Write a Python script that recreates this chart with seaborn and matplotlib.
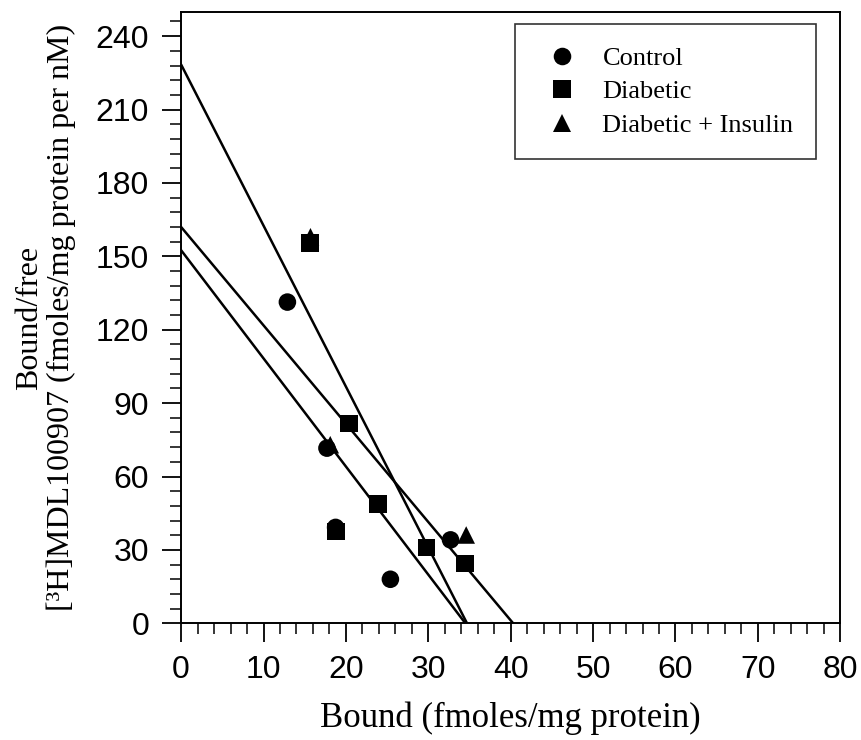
import matplotlib
matplotlib.use("Agg")
import matplotlib.pyplot as plt
import numpy as np
import pandas as pd
import seaborn as sns
from matplotlib.ticker import MultipleLocator

# Scatchard data
control_bound = [12.9, 17.7, 18.75, 25.4, 32.7]
control_bf = [131.3, 71.6, 39.2, 18.0, 34.1]

diabetic_bound = [15.65, 20.35, 23.9, 18.8, 29.8, 34.45]
diabetic_bf = [155.5, 81.6, 48.8, 37.6, 30.9, 24.5]

insulin_bound = [15.7, 18.1, 34.6]
insulin_bf = [158.0, 73.0, 36.1]

# fitted lines: y-intercept (Bmax/Kd) and x-intercept (Bmax)
fit_names = ["fit_a", "fit_b", "fit_c"]
fit_intercepts = [228.4, 162.0, 152.5]
fit_bmax = [34.7, 40.3, 34.5]

groups = ["Control", "Diabetic", "Diabetic + Insulin"]

points = pd.DataFrame({
    "bound": control_bound + diabetic_bound + insulin_bound,
    "bf": control_bf + diabetic_bf + insulin_bf,
    "group": [groups[0]] * len(control_bound)
    + [groups[1]] * len(diabetic_bound)
    + [groups[2]] * len(insulin_bound),
})

lines = pd.DataFrame({
    "fit": [n for n in fit_names for _ in range(2)],
    "bound": [v for b in fit_bmax for v in (0.0, b)],
    "bf": [v for i in fit_intercepts for v in (i, 0.0)],
})

sns.set_theme(style="ticks")
plt.rcParams["font.family"] = ["Liberation Sans", "DejaVu Sans"]

fig = plt.figure(figsize=(8.62, 7.40), dpi=100)
ax = fig.add_axes([0.2101, 0.1577, 0.7647, 0.8265])

sns.lineplot(data=lines, x="bound", y="bf", units="fit", estimator=None,
             sort=False, color="black", lw=1.8, legend=False, ax=ax)

sns.scatterplot(data=points, x="bound", y="bf", style="group",
                markers={"Control": "o", "Diabetic": "s", "Diabetic + Insulin": "^"},
                style_order=groups, color="black", edgecolor="black",
                s=160, linewidth=0, ax=ax, zorder=3)

ax.set_xlim(0, 80)
ax.set_ylim(0, 250)
ax.xaxis.set_major_locator(MultipleLocator(10))
ax.xaxis.set_minor_locator(MultipleLocator(2))
ax.yaxis.set_major_locator(MultipleLocator(30))
ax.yaxis.set_minor_locator(MultipleLocator(6))
ax.set_yticks(np.arange(0, 241, 30))

ax.tick_params(axis="both", which="major", direction="out", length=14,
               width=1.3, color="black", labelsize=23, pad=9,
               labelcolor="black")
ax.tick_params(axis="both", which="minor", direction="out", length=8,
               width=1.1, color="black")

for sp in ax.spines.values():
    sp.set_visible(True)
    sp.set_color("black")
    sp.set_linewidth(1.4)

serif = ["Liberation Serif", "DejaVu Serif"]
ax.set_xlabel("Bound (fmoles/mg protein)", family=serif, fontsize=25,
              labelpad=12, color="black")
ax.set_ylabel("Bound/free\n[³H]MDL100907 (fmoles/mg protein per nM)",
              family=serif, fontsize=23, labelpad=14, linespacing=1.1,
              color="black")

handles, labels = ax.get_legend_handles_labels()
leg = ax.legend(handles, labels, loc="upper right",
                bbox_to_anchor=(0.963, 0.980), borderaxespad=0,
                frameon=True, fancybox=False, edgecolor="black",
                prop={"family": serif, "size": 19}, borderpad=0.85,
                handlelength=1.8, handletextpad=0.65, labelspacing=0.38)
leg.get_frame().set_linewidth(1.2)
for t in leg.get_texts():
    t.set_color("black")

fig.savefig("out.png", dpi=100, facecolor="white")
plt.close(fig)
